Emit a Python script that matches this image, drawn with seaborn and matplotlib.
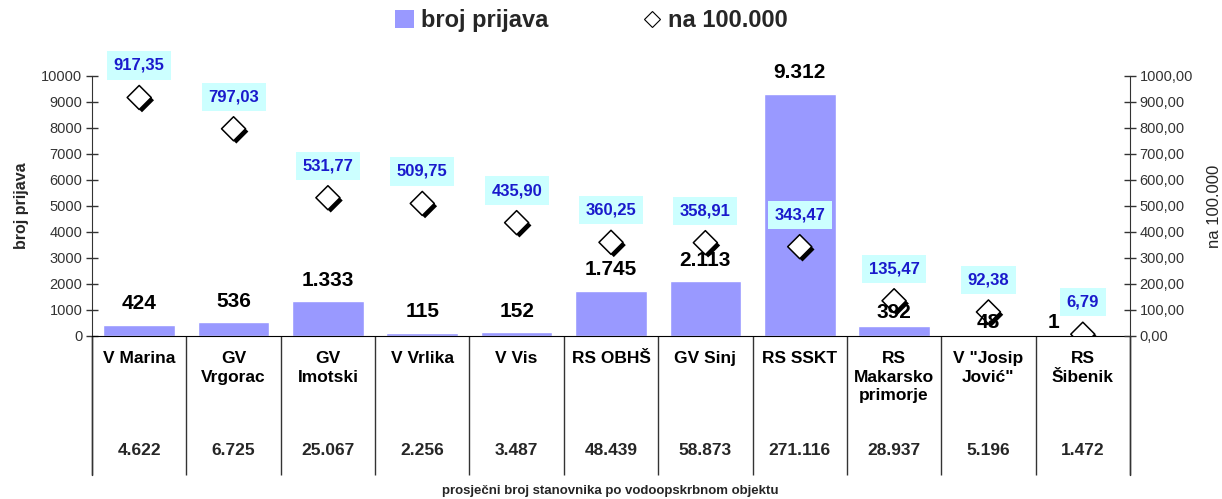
import numpy as np
import pandas as pd
import matplotlib
matplotlib.use("Agg")
import matplotlib.pyplot as plt
import matplotlib.patheffects as pe
from matplotlib.patches import Patch
from matplotlib.lines import Line2D
import seaborn as sns

# --- Data ---
kategorije = ["V Marina", "GV\nVrgorac", "GV\nImotski", "V Vrlika", "V Vis", "RS OBHŠ",
              "GV Sinj", "RS SSKT", "RS\nMakarsko\nprimorje", "V \"Josip\nJović\"", "RS\nŠibenik"]
broj_prijava = [424, 536, 1333, 115, 152, 1745, 2113, 9312, 392, 48, 1]
na_100000 = [917.35, 797.03, 531.77, 509.75, 435.90, 360.25, 358.91, 343.47, 135.47, 92.38, 6.79]
stanovnici = [4622, 6725, 25067, 2256, 3487, 48439, 58873, 271116, 28937, 5196, 1472]

BAR_COLOR = "#9999ff"
LABEL_BLUE = "#1a1acc"
BOX_COLOR = "#ccffff"
# label placement tweaks (pixels) where Excel moved labels around the markers
LABEL_SHIFT = {8: (0, 13), 9: (0, 12), 10: (-29, 13)}

sns.set_style("white")
plt.rcParams["font.family"] = ["Liberation Sans", "DejaVu Sans"]

df = pd.DataFrame({"kat": kategorije, "prijave": broj_prijava,
                   "na100k": na_100000, "x": np.arange(len(kategorije))})

fig = plt.figure(figsize=(12.22, 4.99), dpi=100)
ax = fig.add_axes([0.0753, 0.3267, 0.8494, 0.521])

sns.barplot(data=df, x="kat", y="prijave", color=BAR_COLOR, width=0.76,
            saturation=1, ax=ax, zorder=2)
ax.set_xlim(-0.5, len(kategorije) - 0.5)
ax.set_ylim(0, 10000)
ax.set_yticks(np.arange(0, 10001, 1000))
ax.set_xlabel("")
ax.set_ylabel("broj prijava", fontsize=11.5, fontweight="bold", labelpad=9)
ax.tick_params(axis="y", direction="inout", length=8, width=1, colors="#333333",
               labelsize=10.5, pad=3)
ax.tick_params(axis="x", length=0, pad=11, labelsize=12.5, labelcolor="black")
for lbl in ax.get_xticklabels():
    lbl.set_fontweight("bold")
    lbl.set_linespacing(1.3)
    lbl.set_verticalalignment("top")

for s in ["top", "right"]:
    ax.spines[s].set_visible(False)
ax.spines["left"].set_color("#333333")
ax.spines["bottom"].set_color("black")

fig.text(0.499, 0.016, "prosječni broj stanovnika po vodoopskrbnom objektu",
         ha="center", va="center", fontsize=9.5, fontweight="bold")

# table below the axis
trans = matplotlib.transforms.blended_transform_factory(ax.transData, ax.transAxes)
ax.vlines(np.arange(len(kategorije) + 1) - 0.5, -0.535, 0, transform=trans,
          color="#333333", lw=1, clip_on=False)
for i, v in enumerate(stanovnici):
    ax.text(i, -0.44, f"{v:,}".replace(",", "."), transform=trans, ha="center",
            va="center", fontsize=12.5, fontweight="bold")

# secondary axis: rate per 100.000
ax2 = ax.twinx()
sns.scatterplot(data=df, x="x", y="na100k", marker="D", s=150, color="white",
                edgecolor="black", linewidth=1.1, ax=ax2, zorder=5, legend=False)
ax2.collections[0].set_path_effects([
    pe.SimplePatchShadow(offset=(2, -2), shadow_rgbFace="black", alpha=1),
    pe.Normal()])
ax2.set_ylim(0, 1000)
ax2.set_xlim(-0.5, len(kategorije) - 0.5)
ax2.set_yticks(np.arange(0, 1001, 100))
ax2.set_yticklabels([f"{v:.2f}".replace(".", ",") for v in np.arange(0, 1001, 100)])
ax2.tick_params(axis="y", direction="inout", length=8, width=1, colors="#333333",
                labelsize=10.5, pad=3)
ax2.set_ylabel("na 100.000", fontsize=12, rotation=90, labelpad=10)
ax2.set_xlabel("")
for s in ["top", "left", "bottom"]:
    ax2.spines[s].set_visible(False)
ax2.spines["right"].set_color("#333333")

for i, v in enumerate(na_100000):
    ax2.annotate(f"{v:.2f}".replace(".", ","), (i, v), xytext=(0, 32),
                 textcoords="offset pixels", ha="center", va="center",
                 fontsize=12, fontweight="bold", color=LABEL_BLUE, zorder=6,
                 bbox=dict(boxstyle="square,pad=0.4", fc=BOX_COLOR, ec="none"))

# bar value labels, drawn on top of the markers (as in the original)
for i, v in enumerate(broj_prijava):
    dx, dy = LABEL_SHIFT.get(i, (0, 21))
    ax2.annotate(f"{v:,}".replace(",", "."), (i, v), xycoords=ax.transData,
                 xytext=(dx, dy), textcoords="offset pixels", ha="center",
                 va="center", fontsize=15, fontweight="bold", color="black",
                 zorder=7)

# extend both side spines down through the table
trans2 = ax.transAxes
ax.plot([1, 1], [-0.535, 0], transform=trans2, color="#333333", lw=1, clip_on=False)
ax.plot([0, 0], [-0.535, 0], transform=trans2, color="#333333", lw=1, clip_on=False)

# legend
handles = [Patch(facecolor=BAR_COLOR, edgecolor="none", label="broj prijava"),
           Line2D([], [], marker="D", color="none", markerfacecolor="white",
                  markeredgecolor="black", markersize=8, markeredgewidth=0.8,
                  label="na 100.000")]
fig.legend(handles=handles, loc="center", bbox_to_anchor=(0.484, 0.958), ncol=2,
           frameon=False, prop={"size": 17, "weight": "bold"}, handlelength=0.8,
           handletextpad=0.3, columnspacing=4.0, handleheight=0.8)

fig.savefig("out.png", dpi=100)
